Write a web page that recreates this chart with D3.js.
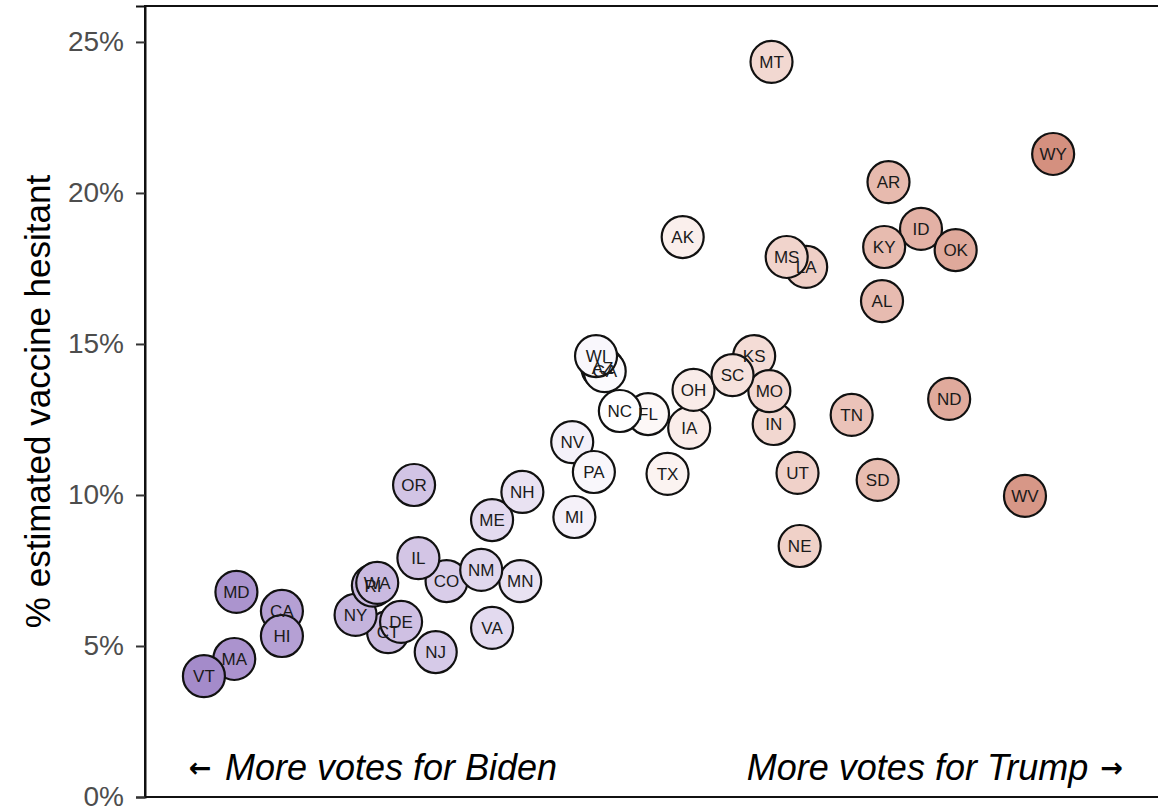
<!DOCTYPE html>
<html>
<head>
<meta charset="utf-8">
<script src="https://d3js.org/d3.v7.min.js"></script>
<style>
  html, body { margin: 0; padding: 0; background: #fff; }
  svg { display: block; font-family: "Liberation Sans", Arial, sans-serif; }
</style>
</head>
<body>
<script>
// states in alphabetical order of full name (draw order)
const states = ["AL","AK","AZ","AR","CA","CO","CT","DE","FL","GA","HI","ID","IL","IN","IA","KS","KY","LA","ME","MD",
  "MA","MI","MN","MS","MO","MT","NE","NV","NH","NJ","NM","NY","NC","ND","OH","OK","OR","PA","RI","SC",
  "SD","TN","TX","UT","VT","VA","WA","WV","WI","WY"];
// Trump 2020 vote share (%)
const trumpShare = [62.0,52.8,49.1,62.3,34.3,41.9,39.2,39.8,51.2,49.2,34.3,63.8,40.6,57.0,53.1,56.1,62.1,58.5,44.0,32.2,
  32.1,47.8,45.3,57.6,56.8,56.9,58.2,47.7,45.4,41.4,43.5,37.7,49.9,65.1,53.3,65.4,40.4,48.7,38.5,55.1,
  61.8,60.6,52.1,58.1,30.7,44.0,38.7,68.6,48.8,69.9];
// estimated vaccine hesitant (%)
const hesitant = [16.42,18.54,14.2,20.36,6.16,7.15,5.46,5.8,12.68,14.1,5.33,18.81,7.91,12.35,12.22,14.6,18.21,17.55,9.17,6.79,
  4.57,9.27,7.15,17.88,13.44,24.34,8.31,11.75,10.1,4.8,7.52,6.03,12.78,13.18,13.48,18.11,10.33,10.76,7.0,13.97,
  10.5,12.65,10.7,10.73,4.0,5.6,7.09,9.97,14.6,21.29];
const yTicks = [0, 5, 10, 15, 20, 25];

const width = 1158, height = 808;
const mLeft = 145, mTop = 6, mBottom = 797, mRight = 1158;

const svg = d3.select("body").append("svg")
  .attr("width", width).attr("height", height);

const x = d3.scaleLinear().domain([27.98, 74.74]).range([mLeft, mRight]);
const y = d3.scaleLinear().domain([0, 26.19]).range([mBottom, mTop]);
const fill = d3.scaleLinear()
  .domain([30.7, 50, 69.9])
  .range(["#a48bca", "#ffffff", "#d4907f"])
  .interpolate(d3.interpolateLab);

// panel border (top + left), bottom axis line
svg.append("rect")
  .attr("x", mLeft).attr("y", mTop)
  .attr("width", mRight - mLeft + 20).attr("height", mBottom - mTop)
  .attr("fill", "none").attr("stroke", "#111").attr("stroke-width", 2);

// y axis
const yAxis = svg.append("g")
  .attr("transform", `translate(${mLeft},0)`)
  .call(d3.axisLeft(y).tickValues(yTicks).tickSize(9).tickPadding(12).tickFormat(d => d + "%"));
yAxis.select(".domain").attr("stroke", "#111").attr("stroke-width", 2);
yAxis.selectAll(".tick line").attr("stroke", "#333").attr("stroke-width", 2);
yAxis.selectAll(".tick text")
  .attr("fill", "#4d4d4d")
  .style("font-size", "28px")
  .style("font-family", "'Liberation Sans', Arial, sans-serif");

svg.append("text")
  .attr("transform", `translate(50,${(mTop + mBottom) / 2}) rotate(-90)`)
  .attr("text-anchor", "middle")
  .style("font-size", "35px")
  .attr("fill", "#000")
  .text("% estimated vaccine hesitant");

// points first, then all labels on top
const idx = d3.range(states.length);
svg.append("g").selectAll("circle")
  .data(idx).join("circle")
  .attr("cx", i => x(trumpShare[i]))
  .attr("cy", i => y(hesitant[i]))
  .attr("r", 21)
  .attr("fill", i => fill(trumpShare[i]))
  .attr("stroke", "#111")
  .attr("stroke-width", 2.2);

svg.append("g").selectAll("text")
  .data(idx).join("text")
  .attr("x", i => x(trumpShare[i]))
  .attr("y", i => y(hesitant[i]))
  .attr("text-anchor", "middle")
  .attr("dy", "0.36em")
  .style("font-size", "17px")
  .attr("fill", "#1a1a1a")
  .text(i => states[i]);

// annotations
const arrowStyle = t => t
  .style("font-family", "'DejaVu Sans', sans-serif")
  .style("font-weight", "bold")
  .style("font-size", "27px")
  .attr("fill", "#000");

arrowStyle(svg.append("text")
  .attr("x", x(30.0)).attr("y", 777))
  .text("\u2190");
svg.append("text")
  .attr("x", x(31.67)).attr("y", 780)
  .style("font-size", "36px").style("font-style", "italic")
  .attr("fill", "#000")
  .text("More votes for Biden");
svg.append("text")
  .attr("x", x(71.52)).attr("y", 780)
  .attr("text-anchor", "end")
  .style("font-size", "36px").style("font-style", "italic")
  .attr("fill", "#000")
  .text("More votes for Trump");
arrowStyle(svg.append("text")
  .attr("x", x(73.13)).attr("y", 777)
  .attr("text-anchor", "end"))
  .text("\u2192");
</script>
</body>
</html>
